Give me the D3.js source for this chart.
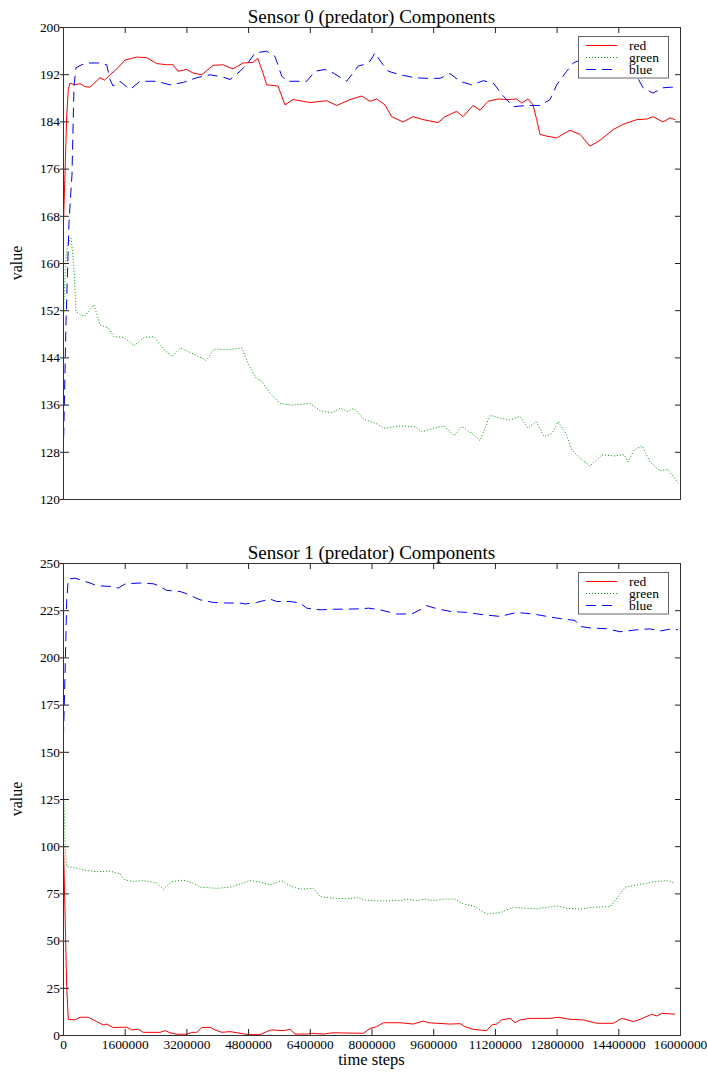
<!DOCTYPE html>
<html>
<head>
<meta charset="utf-8">
<script src="https://cdn.jsdelivr.net/npm/d3@7"></script>
<style>
body { margin: 0; background: #fff; }
text { font-family: "Liberation Serif", "Times New Roman", serif; fill: #000; }
</style>
</head>
<body>
<div id="chart"></div>
<script>
// x axis ticks shared by both panels
const xTicks = [0, 1600000, 3200000, 4800000, 6400000, 8000000, 9600000, 11200000, 12800000, 14400000, 16000000];
const s0Ticks = [120, 128, 136, 144, 152, 160, 168, 176, 184, 192, 200];
const s1Ticks = [0, 25, 50, 75, 100, 125, 150, 175, 200, 225, 250];
const seriesNames = ["red", "green", "blue"];

// Sensor 0 — [time step, value]
const s0Red = [[0,163.9],[96000,184.9],[137000,189.4],[182000,190.5],[300000,190.2],[441000,190.4],[560000,189.9],[700000,189.8],
  [959000,191.4],[1080000,191.0],[1219000,191.9],[1426000,193.1],[1608000,194.4],[1911000,194.9],[2171000,194.8],[2430000,193.8],
  [2689000,193.6],[2853000,193.6],[2982000,192.5],[3208000,192.8],[3371000,192.2],[3597000,191.9],[3890000,193.5],[4149000,193.6],
  [4408000,192.9],[4668000,193.9],[4927000,194.0],[5049000,194.7],[5186000,192.2],[5282000,190.2],[5575000,190.0],[5757000,186.8],
  [5964000,187.7],[6405000,187.2],[6838000,187.5],[7097000,186.7],[7443000,187.7],[7746000,188.3],[7961000,187.4],[8135000,187.8],
  [8350000,186.8],[8524000,184.8],[8817000,183.9],[9076000,184.8],[9336000,184.3],[9725000,183.8],[9906000,184.8],[10209000,185.7],
  [10373000,184.8],[10632000,186.7],[10814000,185.9],[11021000,187.4],[11280000,187.8],[11506000,187.7],[11765000,187.8],
  [11895000,187.1],[12058000,187.8],[12188000,186.8],[12284000,184.3],[12369000,181.8],[12543000,181.5],[12803000,181.2],
  [13147000,182.5],[13407000,181.8],[13666000,179.8],[13926000,180.8],[14263000,182.6],[14522000,183.5],[14877000,184.3],
  [15137000,184.4],[15300000,184.8],[15559000,183.9],[15741000,184.6],[15870000,184.3]];
const s0Green = [[0,148.6],[39000,156],[78000,161],[130000,163.5],[213000,164.2],[285000,158.9],[337000,151.8],[545000,150.9],
  [804000,152.9],[959000,149.5],[1167000,149.0],[1323000,147.5],[1582000,147.4],[1841000,146.0],[2100000,147.4],[2360000,147.5],
  [2619000,145.3],[2827000,144.1],[3034000,145.6],[3345000,144.7],[3708000,143.5],[3916000,145.4],[4279000,145.3],[4642000,145.6],
  [4797000,143.0],[5005000,140.5],[5160000,139.9],[5368000,137.9],[5627000,136.2],[5938000,135.9],[6405000,136.2],[6665000,135.0],
  [6976000,134.6],[7183000,135.4],[7391000,134.8],[7546000,135.4],[7806000,133.5],[8117000,132.8],[8324000,132.0],[8739000,132.4],
  [9154000,132.2],[9310000,131.4],[9621000,132.0],[9880000,132.4],[10139000,130.7],[10347000,132.3],[10606000,131.1],
  [10814000,129.9],[11073000,134.2],[11332000,133.7],[11592000,133.4],[11851000,134.0],[12058000,132.0],[12266000,133.1],
  [12473000,130.6],[12681000,131.1],[12836000,133.1],[13044000,131.1],[13199000,128.3],[13407000,126.9],[13666000,125.6],
  [13977000,127.5],[14289000,127.3],[14548000,127.5],[14652000,126.3],[14807000,128.3],[15015000,129.0],[15222000,126.3],
  [15481000,124.8],[15689000,125.0],[15948000,122.7]];
const s0Blue = [[0,125],[78000,150],[156000,167],[233000,175],[285000,190],[337000,193.1],[485000,193.6],[700000,193.9],
  [959000,193.9],[1133000,193.6],[1219000,191.1],[1297000,190.0],[1478000,190.8],[1737000,189.4],[1997000,190.8],[2430000,190.8],
  [2775000,190.2],[3120000,190.6],[3467000,191.4],[3812000,191.9],[4157000,191.5],[4331000,191.1],[4590000,192.5],[4764000,193.6],
  [4979000,195.6],[5282000,195.9],[5498000,195.0],[5671000,191.7],[5801000,190.8],[6320000,190.8],[6535000,192.5],[6794000,192.8],
  [7009000,192.2],[7357000,190.8],[7658000,193.4],[7787000,193.6],[7961000,194.2],[8091000,195.6],[8265000,193.9],[8436000,192.5],
  [8739000,191.9],[9128000,191.4],[9431000,191.3],[9776000,191.3],[10036000,192.1],[10295000,190.8],[10598000,190.2],
  [10899000,190.9],[11159000,190.5],[11418000,188.3],[11677000,186.5],[12025000,186.7],[12369000,186.7],[12629000,187.7],
  [12803000,190.2],[13062000,192.5],[13233000,193.9],[13537000,194.8],[13926000,195.3],[14315000,195.5],[14652000,193.8],
  [14877000,191.7],[15041000,189.7],[15300000,188.8],[15559000,189.7],[15785000,189.8],[15948000,189.8]];

// Sensor 1 — [time step, value]
const s1Red = [[0,112.2],[96000,25.6],[137000,8.3],[311000,8.0],[441000,9.4],[656000,9.4],[874000,7.1],[1045000,5.3],
  [1133000,5.8],[1304000,3.9],[1478000,4.1],[1652000,4.1],[1782000,2.7],[1953000,3.0],[2082000,1.4],[2515000,1.4],[2645000,2.3],
  [2775000,1.2],[2948000,0.4],[3208000,0.4],[3337000,1.4],[3467000,1.4],[3597000,3.9],[3812000,4.1],[3942000,2.7],[4115000,1.4],
  [4331000,1.8],[4590000,0.9],[4805000,0.2],[5109000,0.2],[5282000,1.8],[5412000,2.7],[5713000,2.3],[5887000,3.0],[6016000,0.5],
  [6320000,0.5],[6449000,0.9],[6750000,0.5],[7009000,1.2],[7443000,1.0],[7787000,0.9],[7961000,3.5],[8135000,4.4],[8306000,6.5],
  [8739000,6.5],[9084000,5.8],[9343000,7.4],[9473000,6.5],[9691000,6.2],[10036000,5.8],[10295000,6.0],[10425000,4.4],
  [10640000,3.0],[10987000,2.3],[11117000,5.3],[11247000,5.8],[11376000,8.0],[11592000,8.8],[11722000,6.5],[11851000,8.0],
  [12110000,8.8],[12369000,8.8],[12629000,8.8],[12844000,9.4],[13147000,8.3],[13492000,8.0],[13840000,6.2],[14270000,6.2],
  [14488000,8.8],[14789000,7.1],[14963000,8.3],[15266000,11.0],[15396000,10.1],[15525000,11.5],[15870000,11.0]];
const s1Green = [[0,130],[26000,124.6],[52000,99.8],[96000,89.2],[267000,88.7],[615000,87.1],[874000,86.5],[1219000,86.8],
  [1478000,85.3],[1608000,82.1],[1823000,81.3],[2082000,81.8],[2430000,80.4],[2601000,77.2],[2819000,81.3],[3120000,82.0],
  [3379000,80.4],[3553000,78.3],[3986000,77.7],[4331000,78.3],[4590000,80.0],[4849000,81.8],[5109000,80.9],[5368000,79.5],
  [5671000,81.8],[5887000,79.0],[6146000,77.2],[6491000,77.7],[6665000,73.3],[7009000,72.4],[7443000,72.2],[7617000,72.9],
  [7876000,71.2],[8306000,71.0],[8739000,71.2],[8913000,72.0],[9172000,71.2],[9387000,72.0],[9603000,71.2],[9862000,72.0],
  [10165000,72.0],[10381000,69.4],[10640000,68.4],[10987000,64.1],[11332000,64.8],[11677000,67.6],[12025000,67.1],
  [12284000,66.8],[12543000,67.6],[12803000,68.4],[13062000,67.1],[13407000,66.6],[13666000,67.6],[14185000,68.0],
  [14358000,72.4],[14574000,78.3],[14877000,79.5],[15137000,80.4],[15396000,81.3],[15655000,81.8],[15870000,80.4]];
const s1Blue = [[0,149.3],[52000,190],[96000,230],[137000,241.5],[311000,242.0],[441000,241.1],[700000,239.4],[874000,238.0],
  [1219000,237.6],[1434000,236.7],[1608000,238.9],[1997000,239.4],[2342000,239.0],[2471000,238.0],[2689000,235.5],[3034000,234.9],
  [3208000,233.7],[3553000,230.5],[3898000,229.1],[4245000,228.8],[4590000,228.8],[4720000,228.3],[5023000,229.1],[5368000,230.9],
  [5542000,229.6],[5887000,229.6],[6146000,228.8],[6320000,226.1],[6665000,225.2],[7009000,225.5],[7443000,225.6],[7787000,225.8],
  [7917000,226.1],[8220000,225.2],[8654000,223.0],[9043000,223.0],[9258000,225.2],[9431000,227.4],[9691000,225.8],[10036000,224.4],
  [10469000,223.8],[10899000,222.6],[11332000,221.7],[11765000,223.8],[12197000,223.0],[12629000,221.4],[12974000,220.3],
  [13277000,219.6],[13407000,216.4],[13710000,215.5],[14099000,215.2],[14444000,213.6],[14877000,214.6],[15222000,215.1],
  [15481000,214.0],[15785000,215.1],[15948000,214.6]];

const W = 707, H = 1076;
const left = 63, plotW = 617, plotH = 472;
const styles = {
  red:   {color: "#ff0000", dash: null},
  green: {color: "#00a000", dash: "1,2"},
  blue:  {color: "#0000ff", dash: "10,6"}
};

const svg = d3.select("#chart").append("svg")
  .attr("width", W).attr("height", H);

const x = d3.scaleLinear().domain([0, 16000000]).range([0, plotW]);

const panels = [
  {title: "Sensor 0 (predator) Components", top: 27, domain: [120, 200], ticks: s0Ticks,
   data: {red: s0Red, green: s0Green, blue: s0Blue}, cutLabels: true},
  {title: "Sensor 1 (predator) Components", top: 563, domain: [0, 250], ticks: s1Ticks,
   data: {red: s1Red, green: s1Green, blue: s1Blue}, cutLabels: false}
];

panels.forEach(function(p, i) {
  const g = svg.append("g").attr("transform", `translate(${left},${p.top})`);
  const y = d3.scaleLinear().domain(p.domain).range([plotH, 0]);

  g.append("defs").append("clipPath").attr("id", "plot" + i)
    .append("rect").attr("width", plotW).attr("height", plotH);
  g.append("defs").append("clipPath").attr("id", "lab" + i)
    .append("rect").attr("x", -30).attr("y", plotH).attr("width", plotW + 60).attr("height", 6.5);

  // lines
  const line = d3.line().x(d => x(d[0])).y(d => y(d[1]));
  const lines = g.append("g").attr("clip-path", `url(#plot${i})`);
  seriesNames.forEach(function(name) {
    lines.append("path")
      .datum(p.data[name])
      .attr("fill", "none")
      .attr("stroke", styles[name].color)
      .attr("stroke-width", 1)
      .attr("stroke-dasharray", styles[name].dash)
      .attr("d", line);
  });

  // axes: ticks pointing inward on all four sides
  const bottomAxis = g.append("g")
    .attr("transform", `translate(0,${plotH})`)
    .call(d3.axisBottom(x).tickValues(xTicks).tickFormat(d3.format("d"))
      .tickSizeInner(-6).tickSizeOuter(0).tickPadding(4));
  if (p.cutLabels) bottomAxis.attr("clip-path", `url(#lab${i})`);
  g.append("g")
    .call(d3.axisTop(x).tickValues(xTicks).tickFormat("").tickSizeInner(-6).tickSizeOuter(0));
  g.append("g")
    .call(d3.axisLeft(y).tickValues(p.ticks).tickSizeInner(-6).tickSizeOuter(0).tickPadding(3));
  g.append("g")
    .call(d3.axisLeft(y).tickValues(p.ticks).tickFormat("").tickSizeInner(3).tickSizeOuter(0));
  g.append("g")
    .attr("transform", `translate(${plotW},0)`)
    .call(d3.axisRight(y).tickValues(p.ticks).tickFormat("").tickSizeInner(-5).tickSizeOuter(0));

  g.selectAll(".domain").remove();
  g.selectAll(".tick line").attr("stroke", "#222");
  g.selectAll(".tick text")
    .style("font-family", "'Liberation Serif', 'Times New Roman', serif")
    .style("font-size", "13.4px").attr("fill", "#000");

  g.append("rect")
    .attr("x", 0.5).attr("y", 0.5).attr("width", plotW).attr("height", plotH)
    .attr("fill", "none").attr("stroke", "#333").attr("stroke-width", 1);

  // title and y label
  g.append("text")
    .attr("x", plotW / 2).attr("y", -4)
    .attr("text-anchor", "middle")
    .style("font-size", "19px")
    .text(p.title);

  g.append("text")
    .attr("transform", `translate(${22 - left},${plotH / 2}) rotate(-90)`)
    .attr("text-anchor", "middle")
    .style("font-size", "16px")
    .text("value");

  // legend
  const lg = g.append("g").attr("transform", `translate(${578 - left},9)`);
  lg.append("rect").attr("x", 0.5).attr("y", 0.5).attr("width", 90).attr("height", 41.5)
    .attr("fill", "#fff").attr("stroke", "#666").attr("stroke-width", 1);
  seriesNames.forEach(function(name, k) {
    const yy = 9 + k * 12;
    lg.append("line")
      .attr("x1", 8).attr("x2", 39).attr("y1", yy + 0.5).attr("y2", yy + 0.5)
      .attr("stroke", styles[name].color)
      .attr("stroke-dasharray", styles[name].dash);
    lg.append("text")
      .attr("x", 51).attr("y", yy + 4.5)
      .style("font-size", "13.5px")
      .text(name);
  });
});

svg.append("text")
  .attr("x", left + plotW / 2).attr("y", 1065)
  .attr("text-anchor", "middle")
  .style("font-size", "16.5px")
  .text("time steps");
</script>
</body>
</html>
